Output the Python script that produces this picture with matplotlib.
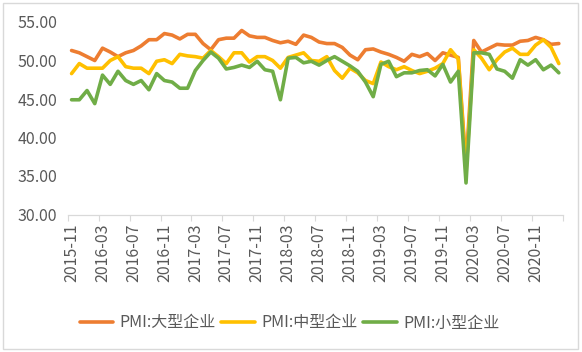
import matplotlib
matplotlib.use("Agg")
import matplotlib.pyplot as plt
import pandas as pd
from matplotlib.patches import Rectangle

plt.rcParams['font.family'] = ['Noto Sans CJK SC', 'DejaVu Sans']

months = [str(p) for p in pd.period_range("2015-11", "2021-02", freq="M")]

large = [51.3, 51.0, 50.5, 50.0, 51.6, 51.1, 50.5, 51.0, 51.3, 51.9,
         52.7, 52.7, 53.5, 53.3, 52.8, 53.4, 53.4, 52.2, 51.4, 52.7,
         52.9, 52.9, 53.9, 53.2, 53.0, 53.0, 52.6, 52.3, 52.5, 52.1,
         53.3, 53.0, 52.4, 52.2, 52.2, 51.7, 50.7, 50.1, 51.4, 51.5,
         51.1, 50.8, 50.4, 49.9, 50.8, 50.5, 50.9, 50.0, 51.0, 50.7,
         50.4, 36.3, 52.6, 51.1, 51.6, 52.1, 52.0, 52.0, 52.5, 52.6,
         53.0, 52.7, 52.1, 52.2]
medium = [48.3, 49.6, 49.0, 49.0, 49.0, 50.0, 50.5, 49.2, 49.0, 49.0,
          48.3, 49.9, 50.1, 49.6, 50.8, 50.6, 50.5, 50.3, 51.3, 50.5,
          49.6, 51.0, 51.0, 49.8, 50.5, 50.5, 50.0, 49.0, 50.4, 50.7,
          51.0, 50.0, 49.9, 50.5, 48.7, 47.7, 49.0, 48.4, 47.4, 47.0,
          49.8, 49.2, 48.8, 49.2, 48.7, 48.3, 48.6, 49.0, 49.6, 51.4,
          50.2, 35.5, 51.4, 50.3, 48.8, 50.1, 51.1, 51.6, 50.8, 50.8,
          52.0, 52.7, 51.7, 49.6]
small = [44.9, 44.9, 46.1, 44.4, 48.1, 46.9, 48.6, 47.4, 46.9, 47.4,
         46.2, 48.3, 47.4, 47.2, 46.4, 46.4, 48.7, 50.0, 51.1, 50.3,
         48.9, 49.1, 49.4, 49.1, 49.9, 48.8, 48.6, 44.9, 50.3, 50.4,
         49.7, 49.9, 49.4, 50.0, 50.5, 49.9, 49.3, 48.6, 47.2, 45.3,
         49.5, 49.9, 47.9, 48.4, 48.4, 48.7, 48.8, 48.0, 49.5, 47.2,
         48.6, 34.1, 51.0, 51.0, 50.8, 48.9, 48.6, 47.7, 50.1, 49.4,
         50.1, 48.8, 49.4, 48.4]

series_names = ["PMI:大型企业", "PMI:中型企业", "PMI:小型企业"]
colors = ["#ED7D31", "#FFC000", "#70AD47"]

W, H = 582, 352
fig = plt.figure(figsize=(W / 100, H / 100), dpi=100)
ax = fig.add_axes([67.7 / W, 1 - 214.5 / H, (562.7 - 67.7) / W, (214.5 - 22) / H])

x = list(range(len(months)))
lines = []
for vals, name, c in zip([large, medium, small], series_names, colors):
    ln, = ax.plot(x, vals, color=c, lw=2.6, label=name,
                  solid_joinstyle='round', solid_capstyle='round')
    lines.append(ln)

ax.set_xlim(-0.5, len(months) - 0.5)
ax.set_ylim(30, 55)
ax.set_yticks([30, 35, 40, 45, 50, 55])
ax.set_yticklabels([f"{v:.2f}" for v in [30, 35, 40, 45, 50, 55]])

major = list(range(0, len(months), 4))
ax.set_xticks(major)
ax.set_xticklabels([months[i] for i in major], rotation=90)
ax.set_xticks([i - 0.5 for i in range(0, len(months) + 1, 4)], minor=True)

ax.tick_params(axis='x', which='major', length=0, pad=6.5, labelsize=11.5, labelcolor='#595959')
ax.tick_params(axis='x', which='minor', length=4, width=0.8, color='#D9D9D9')
ax.tick_params(axis='y', length=0, pad=7.5, labelsize=11.5, labelcolor='#595959')

for s in ['top', 'right', 'left']:
    ax.spines[s].set_visible(False)
ax.spines['bottom'].set_color('#D9D9D9')
ax.spines['bottom'].set_linewidth(0.9)

fig.legend(handles=lines, loc='center', bbox_to_anchor=(289.5 / W, 1 - 323 / H),
           ncol=3, frameon=False, fontsize=11.5, handlelength=2.1,
           handletextpad=0.4, columnspacing=0.35, labelcolor='#595959')

fig.patches.append(Rectangle((2.5 / W, 3 / H), 575.5 / W, 346 / H,
                             transform=fig.transFigure, fill=False,
                             edgecolor='#D9D9D9', lw=1))

fig.savefig("out.png", dpi=100)
